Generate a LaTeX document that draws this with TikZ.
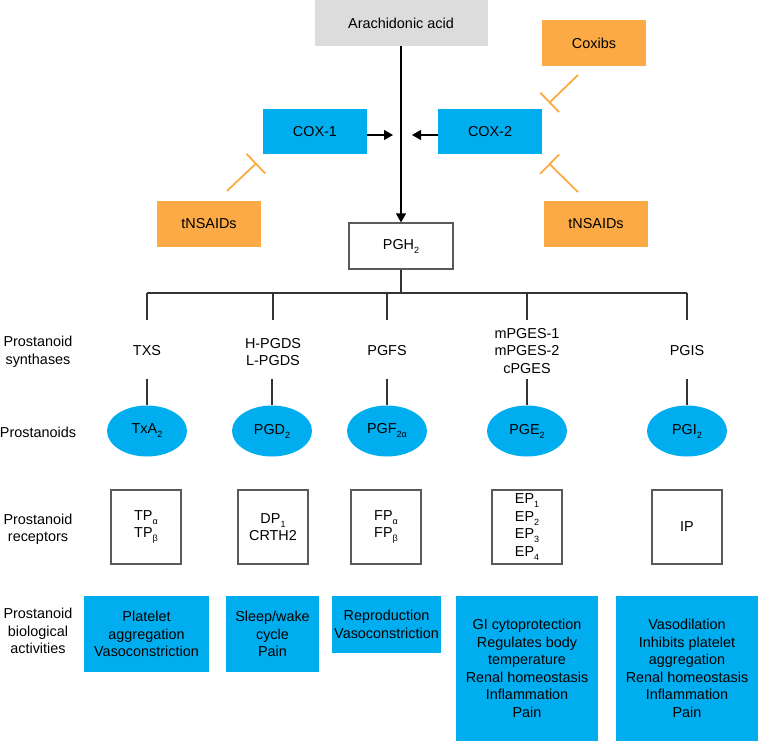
\documentclass[tikz,border=0pt]{standalone}
\usepackage{fontspec}
\setmainfont{Liberation Sans}
\usetikzlibrary{arrows.meta,shapes.geometric,calc}
\definecolor{cblue}{HTML}{00AEEF}
\definecolor{corange}{HTML}{FBAA45}
\definecolor{cgray}{HTML}{DCDCDC}
\definecolor{cline}{HTML}{333333}
\definecolor{cframe}{HTML}{5A5A5A}
\newcommand\lsub[1]{\raisebox{-4pt}{\fontsize{9}{9}\selectfont #1}}
\begin{document}
\begin{tikzpicture}[x=1pt,y=-1pt,
  every node/.style={font=\fontsize{14.4}{17.5}\selectfont, inner sep=0pt, align=center, text=black},
  graybox/.style={fill=cgray, minimum width=173pt, minimum height=46pt},
  orbox/.style={fill=corange, minimum width=104pt, minimum height=46pt},
  coxbox/.style={fill=cblue, minimum width=104pt, minimum height=45pt},
  whitebox/.style={draw=cframe, line width=1.2pt, fill=white, minimum width=104pt, minimum height=46pt},
  recbox/.style={draw=cframe, line width=1.2pt, fill=white, minimum width=70pt, minimum height=74pt},
  oval/.style={ellipse, fill=cblue, minimum width=80pt, minimum height=51pt},
  actbox/.style={fill=cblue},
  conn/.style={draw=cline, line width=1.2pt},
  arr/.style={draw=black, line width=1.2pt, -{Triangle[length=9pt,width=10pt]}},
  inhib/.style={draw=corange, line width=1.8pt, -{Bar[width=27pt]}}
]
\path[use as bounding box] (0,0) rectangle (758,741);

% top part
\node[graybox] (aa) at (401,23) {Arachidonic acid};
\node[orbox] (coxibs) at (594,43) {Coxibs};
\node[coxbox] (cox1) at (315,131.5) {COX-1};
\node[coxbox] (cox2) at (490,131.5) {COX-2};
\node[orbox] (tn1) at (209,224) {tNSAIDs};
\node[orbox] (tn2) at (596,224) {tNSAIDs};
\node[whitebox] (pgh) at (401,246) {PGH\lsub{2}};

\draw[arr] (aa.south) -- (pgh.north);
\coordinate (m1) at (393,135);
\coordinate (m2) at (412,135);
\draw[arr] (cox1.east |- m1) -- (m1);
\draw[arr] (cox2.west |- m2) -- (m2);

\coordinate (i1a) at (227,191); \coordinate (i1b) at (256.5,163);
\coordinate (i2a) at (578,75);  \coordinate (i2b) at (549,103);
\coordinate (i3a) at (578,192); \coordinate (i3b) at (549,163.5);
\draw[inhib] (i1a) -- (i1b);
\draw[inhib] (i2a) -- (i2b);
\draw[inhib] (i3a) -- (i3b);

% bus
\coordinate (b1) at (147,293);
\coordinate (b2) at (273,293);
\coordinate (b3) at (387,293);
\coordinate (b4) at (527,293);
\coordinate (b5) at (687,293);
\draw[conn] (pgh.south) -- (pgh.south |- b1);
\draw[conn] (b1) -- (b5);
\foreach \i in {1,...,5} { \draw[conn] (b\i) -- ++(0,27); }

% row labels
\node (l1) at (38,352) {Prostanoid\\synthases};
\node (l2) at (38,432) {Prostanoids};
\node (l3) at (38,529.5) {Prostanoid\\receptors};
\node (l4) at (38,631) {Prostanoid\\biological\\activities};

% synthases
\node (s1) at (147,351) {TXS};
\node (s2) at (273,352) {H-PGDS\\L-PGDS};
\node (s3) at (387,351) {PGFS};
\node (s4) at (527,351) {mPGES-1\\mPGES-2\\cPGES};
\node (s5) at (687,351) {PGIS};

% prostanoids
\node[oval] (p1) at (147,431) {TxA\lsub{2}};
\node[oval] (p2) at (272,431) {PGD\lsub{2}};
\node[oval] (p3) at (387,431) {PGF\lsub{2α}};
\node[oval] (p4) at (527,431) {PGE\lsub{2}};
\node[oval] (p5) at (687,431) {PGI\lsub{2}};
\foreach \i in {1,...,5} { \draw[conn] (p\i.north) -- ++(0,-26); }

% receptors
\node[recbox] (r1) at (146,527) {TP\lsub{α}\\TP\lsub{β}};
\node[recbox] (r2) at (273,527) {DP\lsub{1}\\CRTH2};
\node[recbox] (r3) at (386,527) {FP\lsub{α}\\FP\lsub{β}};
\node[recbox] (r4) at (527,527) {EP\lsub{1}\\EP\lsub{2}\\EP\lsub{3}\\EP\lsub{4}};
\node[recbox] (r5) at (687,527) {IP};

% activities
\node[actbox, minimum width=125pt, minimum height=76pt] (a1) at (146.5,634) {Platelet\\aggregation\\Vasoconstriction};
\node[actbox, minimum width=93pt, minimum height=76pt] (a2) at (272.5,634) {Sleep/wake\\cycle\\Pain};
\node[actbox, minimum width=109pt, minimum height=57pt] (a3) at (386.5,624.5) {Reproduction\\Vasoconstriction};
\node[actbox, minimum width=142pt, minimum height=145pt] (a4) at (527,668.5) {GI cytoprotection\\Regulates body\\temperature\\Renal homeostasis\\Inflammation\\Pain};
\node[actbox, minimum width=142pt, minimum height=145pt] (a5) at (687,668.5) {Vasodilation\\Inhibits platelet\\aggregation\\Renal homeostasis\\Inflammation\\Pain};
\end{tikzpicture}
\end{document}
